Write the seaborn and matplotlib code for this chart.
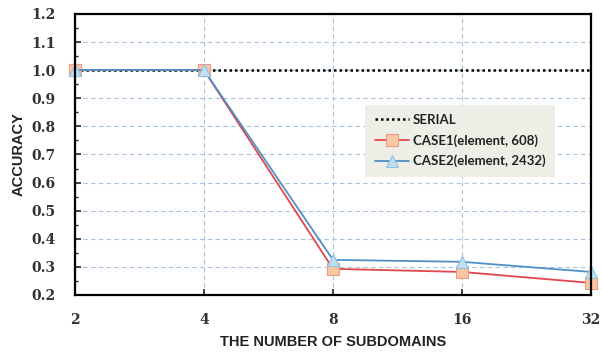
import numpy as np
import pandas as pd
import matplotlib
matplotlib.use('Agg')
import matplotlib.pyplot as plt
from matplotlib.ticker import MultipleLocator, FixedLocator, FixedFormatter, NullLocator
import seaborn as sns

# data
subdomains = [2, 4, 8, 16, 32]
serial = [1.0, 1.0, 1.0, 1.0, 1.0]
case1 = [1.0, 1.0, 0.293, 0.282, 0.243]
case2 = [1.0, 1.0, 0.325, 0.318, 0.282]
labels = ['SERIAL', 'CASE1(element, 608)', 'CASE2(element, 2432)']

df = pd.DataFrame({'n': subdomains * 3,
                   'acc': serial + case1 + case2,
                   'series': [labels[0]] * 5 + [labels[1]] * 5 + [labels[2]] * 5})

sns.set_style('white')

fig = plt.figure(figsize=(6.02, 3.54), dpi=100)
ax = fig.add_axes([0.1246, 0.1667, 0.857, 0.794])

sns.lineplot(data=df[df.series == labels[0]], x='n', y='acc', ax=ax, color='black',
             linestyle=(0, (1, 1.2)), linewidth=1.8, label=labels[0])
sns.lineplot(data=df[df.series == labels[1]], x='n', y='acc', ax=ax, color='#e2474e',
             linewidth=1.3, marker='s', markersize=8.5, markerfacecolor='#f9c7a3',
             markeredgecolor='#ec9a86', markeredgewidth=0.8, label=labels[1], clip_on=False)
sns.lineplot(data=df[df.series == labels[2]], x='n', y='acc', ax=ax, color='#4f8fc6',
             linewidth=1.3, marker='^', markersize=8.5, markerfacecolor='#bfe0f0',
             markeredgecolor='#8ec3e2', markeredgewidth=0.8, label=labels[2], clip_on=False)

ax.set_xscale('log', base=2)
ax.set_xlim(2, 32)
ax.set_ylim(0.2, 1.2)
ax.xaxis.set_major_locator(FixedLocator(subdomains))
ax.xaxis.set_major_formatter(FixedFormatter([str(v) for v in subdomains]))
ax.xaxis.set_minor_locator(NullLocator())
ax.yaxis.set_major_locator(MultipleLocator(0.1))
ax.yaxis.set_minor_locator(MultipleLocator(0.05))
ax.set_yticklabels(['%.1f' % v for v in ax.get_yticks()])

ax.grid(True, which='major', color='#a9c3dc', linestyle=(0, (4, 3)), linewidth=0.8)
for s in ax.spines.values():
    s.set_color('black')
    s.set_linewidth(1.6)

ax.tick_params(axis='x', which='major', direction='in', length=4, width=1.2, pad=13, bottom=True)
ax.tick_params(axis='y', which='major', direction='in', length=4, width=1.2, pad=14, left=True)
ax.tick_params(axis='y', which='minor', direction='in', length=2.5, width=1.0, left=True)
for t in ax.get_xticklabels() + ax.get_yticklabels():
    t.set_fontfamily('DejaVu Serif')
    t.set_fontweight('bold')
    t.set_fontsize(10)
    t.set_color('#333333')

ax.set_xlabel('THE NUMBER OF SUBDOMAINS', fontfamily='Liberation Sans', fontweight='bold',
              fontsize=10.5, color='#222222', labelpad=6)
ax.set_ylabel('ACCURACY', fontfamily='Liberation Sans', fontweight='bold',
              fontsize=10.5, color='#222222', labelpad=4)

leg = ax.legend(loc='upper left', bbox_to_anchor=(0.55, 0.70), frameon=True, fancybox=False,
                facecolor='#eeeee6', edgecolor='none', framealpha=1.0, handlelength=2.6,
                handletextpad=0.3, borderpad=0.7, labelspacing=0.6,
                prop={'family': 'Lato', 'weight': 'bold', 'size': 9.5})
for t in leg.get_texts():
    t.set_color('#222222')

fig.savefig('out.png', dpi=100)
